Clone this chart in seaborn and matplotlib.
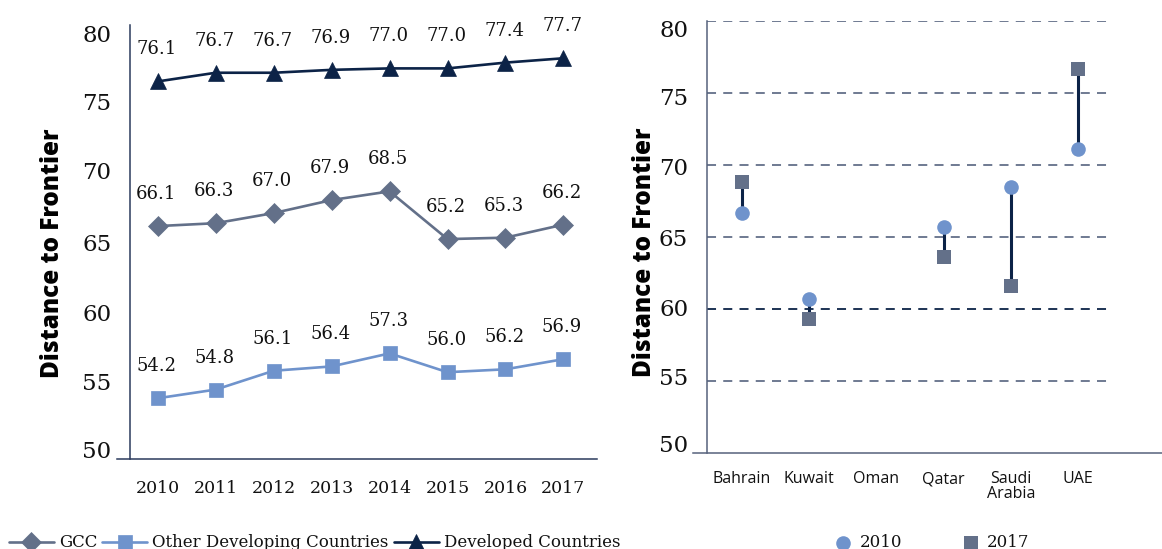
import numpy as np
import pandas as pd
import matplotlib
matplotlib.use("Agg")
import matplotlib.pyplot as plt
from matplotlib.transforms import ScaledTranslation
import seaborn as sns

# Distance to Frontier scores, 2010-2017
years = [2010, 2011, 2012, 2013, 2014, 2015, 2016, 2017]
gcc = [66.1, 66.3, 67.0, 67.9, 68.5, 65.2, 65.3, 66.2]
other_developing = [54.2, 54.8, 56.1, 56.4, 57.3, 56.0, 56.2, 56.9]
developed = [76.1, 76.7, 76.7, 76.9, 77.0, 77.0, 77.4, 77.7]
series_names = ["GCC", "Other Developing Countries", "Developed Countries"]

# GCC members, 2010 vs 2017
countries = ["Bahrain", "Kuwait", "Oman", "Qatar", "Saudi\nArabia", "UAE"]
score_2010 = [66.7, 60.7, np.nan, 65.7, 68.5, 71.1]
score_2017 = [68.8, 59.3, np.nan, 63.6, 61.6, 76.7]

y_ticks = [50, 55, 60, 65, 70, 75, 80]
# small vertical nudges (pixels, downward) applied to the y tick labels
label_nudge_px = [-10, -5, -2, 0, 1, 4, 8]

NAVY = "#0c2347"
SLATE = "#637089"
LIGHT = "#6f93cc"
AXIS_L = "#2b3b5d"
AXIS_R = "#56627c"
TEXT = "#111111"
SERIF = ["DejaVu Serif"]
SANS = ["Open Sans", "DejaVu Sans"]

sns.set_style("white")
plt.rcParams["font.family"] = SERIF
plt.rcParams["lines.scale_dashes"] = False
plt.rcParams["text.color"] = TEXT
plt.rcParams["xtick.labelcolor"] = TEXT
plt.rcParams["ytick.labelcolor"] = TEXT

fig = plt.figure(figsize=(11.62, 5.49), dpi=100)
ax_l = fig.add_axes([0.11188, 0.16393, 0.40189, 0.79053])
ax_r = fig.add_axes([0.60843, 0.17486, 0.34940, 0.78689])


def nudge_ytick_labels(ax):
    for tick, dy in zip(ax.yaxis.get_major_ticks(), label_nudge_px):
        lab = tick.label1
        lab.set_transform(lab.get_transform() + ScaledTranslation(0, -dy / 100, fig.dpi_scale_trans))


# ---------- left: regional trend lines ----------
styles = [
    (gcc, SLATE, "D", 10.5),
    (other_developing, LIGHT, "s", 9.5),
    (developed, NAVY, "^", 11.5),
]
for name, (vals, col, mk, ms) in zip(series_names, styles):
    sns.lineplot(x=years, y=vals, ax=ax_l, color=col, marker=mk, markersize=ms,
                 markeredgecolor=col, markeredgewidth=0.5, linewidth=1.9,
                 label=name, legend=False, zorder=3)
    for x, v in zip(years, vals):
        ax_l.annotate(f"{v:.1f}", (x, v), xytext=(-1, 23), textcoords="offset points",
                      ha="center", va="center", fontsize=13, family=SERIF, color=TEXT)

ax_l.set_xlim(2009.52, 2017.58)
ax_l.set_ylim(50, 80)
ax_l.set_yticks(y_ticks)
ax_l.set_yticklabels([str(t) for t in y_ticks], fontsize=16.5, family=SERIF)
ax_l.set_xticks(years)
ax_l.set_xticklabels([str(y) for y in years], fontsize=12.5, family=SERIF)
ax_l.set_xticks([2009.52] + [y + 0.5 for y in years[:-1]] + [2017.58], minor=True)
ax_l.tick_params(axis="x", which="major", length=0, pad=15)
ax_l.tick_params(axis="x", which="minor", length=8.5, width=1.1, color=AXIS_L, direction="out")
ax_l.tick_params(axis="y", length=9.5, width=1.1, color=AXIS_L, direction="out", pad=4)
for s in ["top", "right"]:
    ax_l.spines[s].set_visible(False)
for s in ["left", "bottom"]:
    ax_l.spines[s].set_color(AXIS_L)
    ax_l.spines[s].set_linewidth(1.1)
ax_l.spines["bottom"].set_bounds(2009.3, 2017.58)
ax_l.set_xlabel("")
ax_l.set_ylabel("Distance to Frontier", fontsize=17.5, fontweight=800, family=SANS, color="black")
ax_l.yaxis.set_label_coords(-0.140, 0.475)
nudge_ytick_labels(ax_l)

h, l = ax_l.get_legend_handles_labels()
fig.legend(h, l, loc="center left", bbox_to_anchor=(0.002, 0.011), ncol=3, frameon=False,
           handlelength=2.7, handletextpad=0.3, columnspacing=0.3,
           prop={"family": SERIF, "size": 12}, borderaxespad=0)

# ---------- right: GCC members 2010 vs 2017 ----------
for i, (a, b) in enumerate(zip(score_2010, score_2017)):
    if not (np.isnan(a) or np.isnan(b)):
        ax_r.vlines(i, min(a, b), max(a, b), color=NAVY, linewidth=2.2, zorder=2)

n0 = len(ax_r.collections)
sns.stripplot(x=countries, y=score_2010, order=countries, jitter=False, marker="o",
              color=LIGHT, size=10.5, linewidth=0, ax=ax_r, zorder=3)
n1 = len(ax_r.collections)
sns.stripplot(x=countries, y=score_2017, order=countries, jitter=False, marker="s",
              color=SLATE, size=10, linewidth=0, ax=ax_r, zorder=3)
if ax_r.get_legend() is not None:
    ax_r.get_legend().remove()

# one legend entry per year, taken from the drawn point collections
pts_2010 = [c for c in ax_r.collections[n0:n1] if c.get_offsets().size][0]
pts_2017 = [c for c in ax_r.collections[n1:] if c.get_offsets().size][0]

ax_r.set_xlim(-0.52, 5.52)
ax_r.set_ylim(50, 80)
ax_r.set_yticks(y_ticks)
ax_r.set_yticklabels([str(t) for t in y_ticks], fontsize=16.5, family=SERIF)
ax_r.set_xticks(range(len(countries)))
ax_r.set_xticklabels(countries, fontsize=11.5, family=SANS, linespacing=0.9)
ax_r.set_xticks([-0.52, 0.44, 1.44, 2.44, 3.41, 4.39, 5.52], minor=True)
ax_r.tick_params(axis="x", which="major", length=0, pad=13)
ax_r.tick_params(axis="x", which="minor", length=9.5, width=1.1, color=AXIS_R, direction="out")
ax_r.tick_params(axis="y", length=9.5, width=1.1, color=AXIS_R, direction="out", pad=4)
ax_r.yaxis.grid(True, linestyle=(0, (6.5, 5.2)), linewidth=1.3, color=SLATE)
ax_r.xaxis.grid(False)
for j, gl in enumerate(ax_r.get_ygridlines()):
    if y_ticks[j] == 60:
        gl.set_color(NAVY)
    if y_ticks[j] == 50:
        gl.set_visible(False)
ax_r.set_axisbelow(True)
for s in ["top", "right"]:
    ax_r.spines[s].set_visible(False)
for s in ["left", "bottom"]:
    ax_r.spines[s].set_color(AXIS_R)
    ax_r.spines[s].set_linewidth(1.1)
ax_r.spines["bottom"].set_bounds(-0.73, 6.4)
ax_r.set_xlabel("")
ax_r.set_ylabel("Distance to Frontier", fontsize=17.5, fontweight=800, family=SANS, color="black")
ax_r.yaxis.set_label_coords(-0.123, 0.465)
nudge_ytick_labels(ax_r)

fig.legend([pts_2010, pts_2017], ["2010", "2017"], loc="center left",
           bbox_to_anchor=(0.7126, 0.011), ncol=2, frameon=False,
           handlelength=1.0, handletextpad=0.5, columnspacing=3.6, scatterpoints=1,
           prop={"family": SERIF, "size": 12}, borderaxespad=0)

fig.savefig("out.png", dpi=100)
